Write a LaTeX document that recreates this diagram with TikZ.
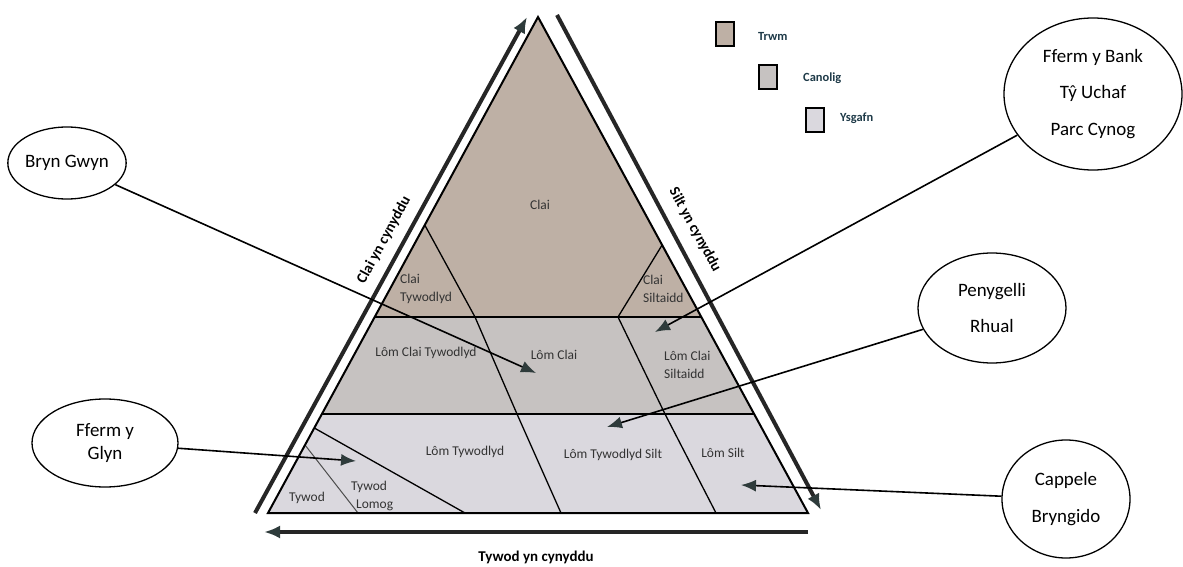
\documentclass[tikz,border=0pt]{standalone}
\usepackage{fontspec}
\setmainfont{Carlito}
\usepackage{xcolor}
\usetikzlibrary{positioning,calc,shapes.geometric,arrows.meta}
\definecolor{heavy}{HTML}{BEB0A5}
\definecolor{medium}{HTML}{C6C2C1}
\definecolor{light}{HTML}{DAD8DE}
\definecolor{tipgrey}{HTML}{2E3B3B}
\definecolor{keyblue}{HTML}{1E3A48}

\begin{document}
\begin{tikzpicture}[x=1bp,y=-1bp,
  site/.style={ellipse, draw, line width=1.3bp, align=center, inner sep=0pt, font=\fontsize{19}{37}\selectfont},
  cell/.style={align=center, inner sep=0pt, text=black!80, font=\fontsize{13.5}{18}\selectfont},
  axis/.style={inner sep=0pt, font=\fontsize{15}{17}\selectfont\bfseries},
  side/.style={line width=4bp, black!85, -{Latex[length=16bp,width=13bp,color=tipgrey]}},
  pointer/.style={line width=1.6bp, -{Latex[length=15bp,width=12bp,color=tipgrey]}},
  key/.style={draw, line width=1.8bp, minimum width=18bp, minimum height=24bp, inner sep=0pt},
  keytext/.style={anchor=west, inner sep=0pt, text=keyblue, font=\fontsize{12.5}{14}\selectfont\bfseries}]
\useasboundingbox (0,0) rectangle (1183,567);

\coordinate (A) at (268,513);
\coordinate (B) at (808,513);
\coordinate (C) at (538,17);
\coordinate (l1) at ($(A)!0.3952!(C)$);
\coordinate (r1) at ($(B)!0.3952!(C)$);
\coordinate (l2) at ($(A)!0.1996!(C)$);
\coordinate (r2) at ($(B)!0.1996!(C)$);

\fill[heavy] (C) -- (l1) -- (r1) -- cycle;
\fill[medium] (l1) -- (r1) -- (r2) -- (l2) -- cycle;
\fill[light] (l2) -- (r2) -- (B) -- (A) -- cycle;

\draw[line width=1.3bp] ($(A)!0.5806!(C)$) -- (475,317) -- (517,414) -- (561,513);
\draw[line width=1.3bp] ($(B)!0.5403!(C)$) -- (618,317) -- (665,414) -- (716,513);
\draw[line width=1.3bp] ($(A)!0.1714!(C)$) -- (465,513);
\draw[line width=1bp, black!70] ($(A)!0.1371!(C)$) -- (358,513);
\draw[line width=2.4bp] (l1) -- (r1);
\draw[line width=2.4bp] (l2) -- (r2);
\draw[line width=2bp] (A) -- (B) -- (C) -- cycle;

\node[cell] (clai) at (540,205) {Clai};
\node[cell, align=left, anchor=west] (claityw) at (400,289) {Clai\\Tywodlyd};
\node[cell, align=left, anchor=west] (claisilt) at (643,289) {Clai\\Siltaidd};
\node[cell] (lomclaityw) at (426,353) {Lôm Clai Tywodlyd};
\node[cell] (lomclai) at (554,355) {Lôm Clai};
\node[cell, align=left, anchor=west] (lomclaisilt) at (664,365) {Lôm Clai\\Siltaidd};
\node[cell] (lomtyw) at (465,452) {Lôm Tywodlyd};
\node[cell] (lomtywsilt) at (613,455) {Lôm Tywodlyd Silt};
\node[cell] (lomsilt) at (723,453) {Lôm Silt};
\node[cell] (tywod) at (307,498) {Tywod};
\node[cell, align=left, anchor=west] (tywlom) at (351,496) {Tywod\\\hspace{5bp}Lomog};

\coordinate (leftfoot) at (255,513);
\coordinate (lefttop) at (527,17);
\coordinate (righttop) at (557,15);
\coordinate (rightfoot) at (821,510);
\coordinate (basestart) at (808,532);
\coordinate (baseend) at (264,532);
\draw[side] (leftfoot) -- (lefttop);
\draw[side] (righttop) -- (rightfoot);
\draw[side] (basestart) -- (baseend);
\node[axis, rotate=61.4] (claiup) at (384,240) {Clai yn cynyddu};
\node[axis, rotate=-61.4] (siltup) at (695,230) {Silt yn cynyddu};
\node[axis] (tywodup) at (536,557) {Tywod yn cynyddu};

\node[key, fill=heavy] (trwm) at (725,34) {};
\node[keytext] at (758,36) {Trwm};
\node[key, fill=medium] (canolig) at (768,77) {};
\node[keytext] at (803,78) {Canolig};
\node[key, fill=light] (ysgafn) at (815,120) {};
\node[keytext] at (840,118) {Ysgafn};

\node[site, minimum width=118bp, minimum height=72bp] (bryn) at (67,163) {Bryn Gwyn};
\node[site, minimum width=146bp, minimum height=88bp, font=\fontsize{19}{24}\selectfont] (glyn) at (105,443) {Fferm y\\Glyn};
\node[site, minimum width=178bp, minimum height=152bp] (bank) at (1093,94) {Fferm y Bank\\Tŷ Uchaf\\Parc Cynog};
\node[site, minimum width=148bp, minimum height=110bp] (peny) at (992,308) {Penygelli\\Rhual};
\node[site, minimum width=128bp, minimum height=118bp] (cappele) at (1066,499) {Cappele\\Bryngido};

\coordinate (bryntip) at (536,373);
\coordinate (glyntip) at (356,461);
\coordinate (banktip) at (655,332);
\coordinate (penytip) at (607,427);
\coordinate (cappeletip) at (741,485);
\draw[pointer] (bryn) -- (bryntip);
\draw[pointer] (glyn) -- (glyntip);
\draw[pointer] (bank) -- (banktip);
\draw[pointer] (peny) -- (penytip);
\draw[pointer] (cappele) -- (cappeletip);
\end{tikzpicture}
\end{document}
